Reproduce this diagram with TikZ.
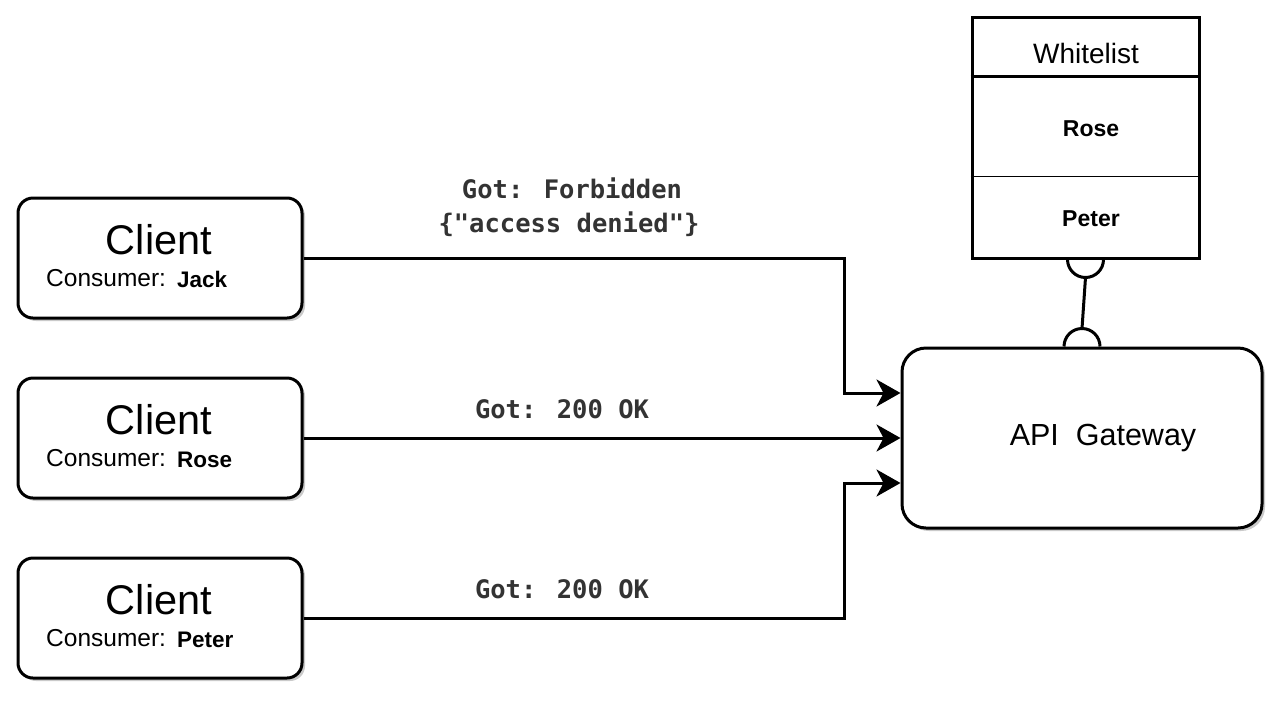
\documentclass[tikz,border=0pt]{standalone}
\usepackage{fontspec}
\setmainfont{Liberation Sans}
\newfontfamily\monofam{DejaVu Sans Mono}
\usetikzlibrary{arrows.meta,shadows}
\definecolor{labelgray}{HTML}{333333}
\tikzset{
  box/.style={draw=black, line width=3pt, fill=white, rounded corners=15pt,
    drop shadow={shadow xshift=3pt, shadow yshift=-3pt, fill=gray!70, opacity=.6}},
  client/.style={box, minimum width=284pt, minimum height=120pt, inner sep=0pt},
  gateway/.style={box, rounded corners=24pt, minimum width=360pt, minimum height=180pt, inner sep=0pt},
  tbl/.style={draw=black, line width=3pt, fill=white, minimum width=227pt, minimum height=241pt, inner sep=0pt},
  big/.style={inner sep=0pt, anchor=base, font=\fontsize{41.5}{48}\selectfont},
  cons/.style={inner sep=0pt, anchor=base west, font=\fontsize{24.5}{28}\selectfont},
  who/.style={inner sep=0pt, anchor=base west, font=\fontsize{22.5}{25}\selectfont\bfseries},
  lbl/.style={inner sep=0pt, anchor=base, text=labelgray, font=\monofam\bfseries\fontsize{25.5}{30}\selectfont},
  conn/.style={line width=3pt, draw=black},
  arr/.style={conn, -{Stealth[length=24pt, width=27pt, inset=7pt]}},
}
\begin{document}
\begin{tikzpicture}[x=1pt, y=1pt]
\useasboundingbox (0,0) rectangle (1284,-702);

% Client boxes
\node[client] (jack) at (160,-258) {};
\node[big] (jackT) at (159,-254) {Client};
\node[cons] (jackC) at (46,-286) {Consumer:};
\node[who] (jackN) at (177,-287) {Jack};

\node[client] (rose) at (160,-438) {};
\node[big] (roseT) at (159,-434) {Client};
\node[cons] (roseC) at (46,-466) {Consumer:};
\node[who] (roseN) at (177,-467) {Rose};

\node[client] (peter) at (160,-618) {};
\node[big] (peterT) at (159,-614) {Client};
\node[cons] (peterC) at (46,-646) {Consumer:};
\node[who] (peterN) at (177,-647) {Peter};

% Gateway
\node[gateway] (gw) at (1082,-438) {};
\node[inner sep=0pt, anchor=base, font=\fontsize{30.5}{34}\selectfont] (gwT) at (1103,-445) {API\ \ Gateway};

% Whitelist table
\node[tbl] (wl) at (1085.5,-137.5) {};
\draw[line width=3pt] ([yshift=-61pt]wl.north west) -- ([yshift=-61pt]wl.north east);
\draw[line width=1.3pt] ([yshift=-161pt]wl.north west) -- ([yshift=-161pt]wl.north east);
\node[inner sep=0pt, anchor=base, font=\fontsize{28}{32}\selectfont] (wlT) at (1086,-63) {Whitelist};
\node[inner sep=0pt, anchor=base, font=\fontsize{23}{27}\selectfont\bfseries] (wlR) at (1091,-136) {Rose};
\node[inner sep=0pt, anchor=base, font=\fontsize{23}{27}\selectfont\bfseries] (wlP) at (1091,-226) {Peter};

% Whitelist -- Gateway connector
\draw[conn] ([xshift=-18pt]wl.south) arc[start angle=180, end angle=360, radius=18pt];
\draw[conn] ([yshift=-18pt]wl.south) -- ([yshift=18pt]gw.north);
\draw[conn] ([xshift=-18pt]gw.north) arc[start angle=180, end angle=0, radius=18pt];

% Request connectors
\draw[arr] (jack.east) -- ++(541,0) |- ([yshift=45pt]gw.west);
\draw[arr] (rose.east) -- (gw.west);
\draw[arr] (peter.east) -- ++(541,0) |- ([yshift=-45pt]gw.west);

% Labels
\node[lbl] (l1) at (572,-198) {Got: Forbidden};
\node[lbl] (l2) at (569,-232) {\{"access denied"\}};
\node[lbl] (l3) at (562,-418) {Got: 200 OK};
\node[lbl] (l4) at (562,-598) {Got: 200 OK};
\end{tikzpicture}
\end{document}
